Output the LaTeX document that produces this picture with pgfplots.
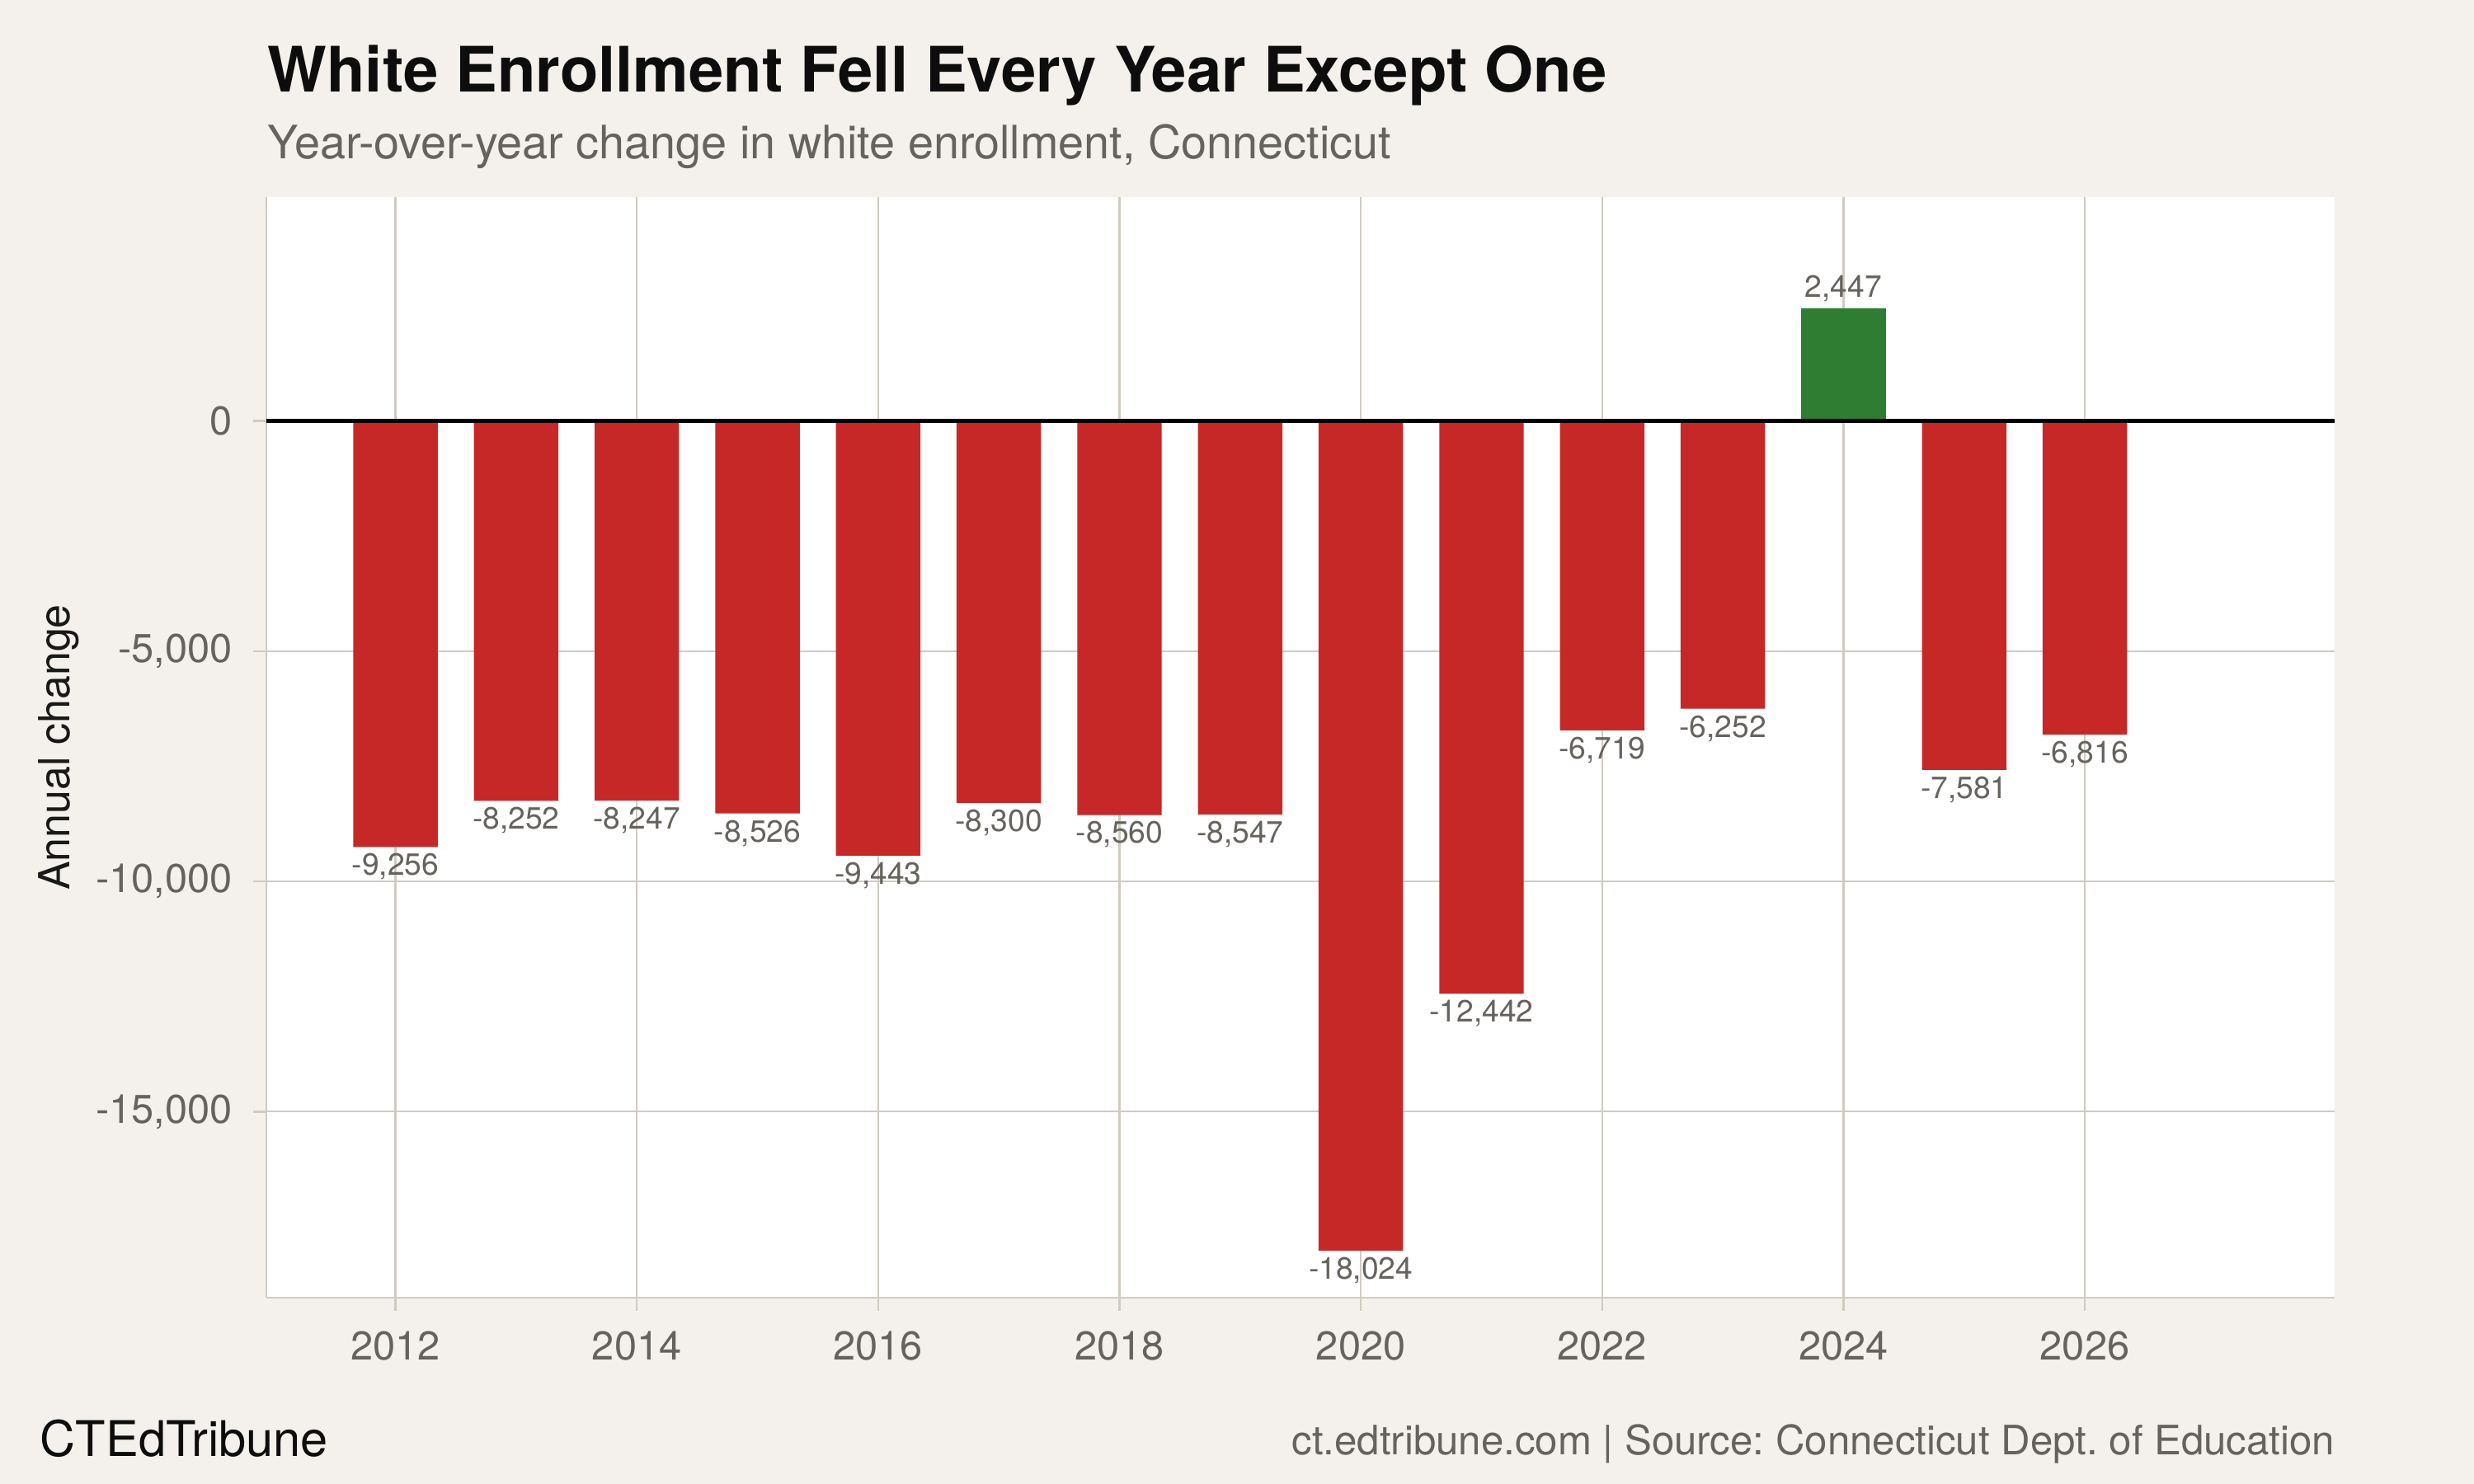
\documentclass[border=0pt]{standalone}
\usepackage{fontspec}
\setmainfont{TeX Gyre Heros}
\usepackage{pgfplots}
\usepackage{pgfplotstable}
\pgfplotsset{compat=1.18}
\frenchspacing

\definecolor{bg}{HTML}{F4F1EC}
\definecolor{gridc}{HTML}{D0CBC2}
\definecolor{fellred}{HTML}{C62828}
\definecolor{rosegreen}{HTML}{2E7D32}
\definecolor{txtgray}{HTML}{66625D}

% year-over-year change in white enrollment
\pgfplotstableread{
year change
2012 -9256
2013 -8252
2014 -8247
2015 -8526
2016 -9443
2017 -8300
2018 -8560
2019 -8547
2020 -18024
2021 -12442
2022 -6719
2023 -6252
2025 -7581
2026 -6816
}\losses
\pgfplotstableread{
year change
2024 2447
}\gains

\begin{document}
\begin{tikzpicture}
\path[use as bounding box, fill=bg] (0pt,0pt) rectangle (750pt,450pt);
\begin{axis}[
    at={(80.75pt,56.5pt)}, anchor=south west,
    scale only axis, width=627pt, height=333.75pt,
    xmin=2010.93, xmax=2028.07,
    ymin=-19040, ymax=4860,
    axis background/.style={fill=white},
    axis x line*=bottom, axis y line*=left,
    axis line style={gridc, line width=0.7pt, -},
    tick align=outside, major tick length=4pt,
    tick style={gridc, line width=0.6pt},
    xtick={2012,2014,...,2026},
    ytick={-15000,-10000,-5000,0},
    scaled y ticks=false,
    grid=major,
    major grid style={gridc, line width=0.55pt},
    /pgf/number format/assume math mode=true,
    ticklabel style={font=\fontsize{12.2}{14}\selectfont, text=txtgray},
    xticklabel style={/pgf/number format/1000 sep={}, yshift=-2.75pt},
    yticklabel style={/pgf/number format/fixed, /pgf/number format/1000 sep={,}, xshift=-2.75pt},
    ylabel={Annual change},
    every axis y label/.style={at={(axis description cs:0,0.5)}, xshift=-63pt, rotate=90, anchor=center,
        font=\fontsize{13}{15}\selectfont, text=black!90},
    ybar, bar width=0.7, bar shift=0pt,
    nodes near coords,
    nodes near coords align={vertical},
    every node near coord/.append style={font=\fontsize{9.3}{11}\selectfont, text=txtgray, inner sep=1.8pt,
        /pgf/number format/fixed, /pgf/number format/precision=0,
        /pgf/number format/1000 sep={,}, /pgf/number format/assume math mode=true},
]
\addplot[fill=fellred, draw=none] table[x=year, y=change] {\losses};
\addplot[fill=rosegreen, draw=none] table[x=year, y=change] {\gains};
\draw[black, line width=1.1pt] (axis cs:2010.93,0) -- (axis cs:2028.07,0);
\end{axis}
\node[anchor=base west, inner sep=0pt, text=black!95, font=\fontsize{19}{22}\selectfont\bfseries] at (81pt,422pt)
    {White Enrollment Fell Every Year Except One};
\node[anchor=base west, inner sep=0pt, text=txtgray, font=\fontsize{13.95}{16}\selectfont] at (81pt,401.8pt)
    {Year-over-year change in white enrollment, Connecticut};
\node[anchor=base west, inner sep=0pt, text=black!95, font=\fontsize{14.9}{17}\selectfont] at (12pt,8.3pt) {CTEdTribune};
\node[anchor=base east, inner sep=0pt, text=txtgray, font=\fontsize{12.3}{14}\selectfont] at (708pt,8.8pt)
    {ct.edtribune.com | Source: Connecticut Dept. of Education};
\end{tikzpicture}
\end{document}
